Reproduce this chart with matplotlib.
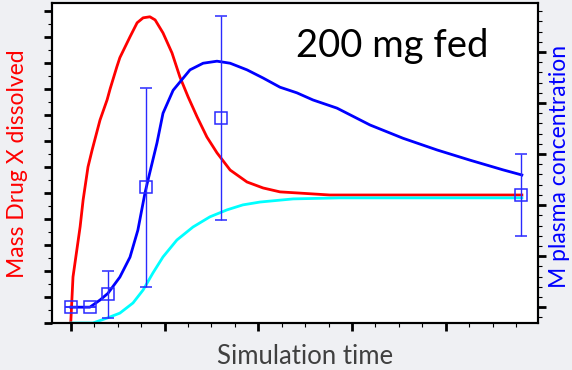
import numpy as np
import matplotlib
matplotlib.use('Agg')
import matplotlib.pyplot as plt
from matplotlib.ticker import MultipleLocator, NullFormatter

plt.rcParams['font.family'] = ['Lato', 'DejaVu Sans']

# simulated amount dissolved (left axis)
red_t = [0, 0.06, 0.25, 0.33, 0.46, 0.57, 0.78, 0.97, 1.05, 1.23, 1.31, 1.58, 1.77,
         1.93, 2.11, 2.25, 2.46, 2.70, 2.91, 3.13, 3.37, 3.63, 3.90, 4.25, 4.70,
         5.13, 5.58, 6.03, 6.91, 12.03]
red_v = [0, 1.77, 3.7, 4.73, 6.0, 6.65, 7.8, 8.58, 9.0, 9.85, 10.2, 11.0, 11.54,
         11.73, 11.77, 11.65, 11.15, 10.38, 9.46, 8.69, 7.92, 7.15, 6.54, 5.88, 5.42,
         5.19, 5.04, 5.0, 4.92, 4.92]

# second simulated amount (left axis)
cyan_t = [0, 0.59, 0.97, 1.31, 1.66, 1.93, 2.19, 2.46, 2.83, 3.26, 3.71, 4.17, 4.59,
          5.05, 5.93, 7.18, 12.03]
cyan_v = [0, 0, 0.19, 0.38, 0.77, 1.27, 1.92, 2.54, 3.19, 3.69, 4.08, 4.35, 4.54,
          4.65, 4.77, 4.81, 4.81]

# simulated plasma concentration (right axis)
blue_t = [0, 0.51, 0.78, 0.99, 1.31, 1.58, 1.79, 1.98, 2.06, 2.30, 2.46, 2.73, 2.91,
          3.18, 3.53, 3.90, 4.25, 4.70, 5.13, 5.58, 6.03, 6.46, 7.10, 7.98, 8.86,
          9.77, 10.65, 11.53, 12.03]
blue_v = [0, 0, 0.14, 0.27, 0.59, 0.98, 1.51, 2.24, 2.49, 3.22, 3.80, 4.25, 4.41,
          4.65, 4.78, 4.82, 4.78, 4.65, 4.49, 4.31, 4.20, 4.06, 3.90, 3.57, 3.31,
          3.08, 2.88, 2.69, 2.59]

# observed plasma concentration
obs_t = [0, 0.5, 1, 2, 4, 12]
obs_v = [0, 0, 0.25, 2.35, 3.7, 2.2]
obs_err = [0, 0, 0.46, 1.95, 2.0, 0.8]

W, H = 572, 370
fig = plt.figure(figsize=(W / 100, H / 100), dpi=100)
fig.patch.set_facecolor('#eff0f3')
ax = fig.add_axes([52 / W, 1 - 323 / H, 486 / W, 320 / H])
ax2 = ax.twinx()

ax.plot(red_t, red_v, color='#ff0000', lw=2)
ax.plot(cyan_t, cyan_v, color='#00ffff', lw=2)
ax2.plot(blue_t, blue_v, color='#0000ff', lw=2)
ax2.errorbar(obs_t, obs_v, yerr=obs_err, fmt='s', mfc='none', mec='#2a2aff',
             ms=8, mew=1.1, ecolor='#2a2aff', elinewidth=1, capsize=4, capthick=1)

for a in (ax, ax2):
    a.set_xlim(-0.5, 12.46)
    a.xaxis.set_major_locator(MultipleLocator(2.5))
    a.xaxis.set_minor_locator(MultipleLocator(0.625))
    a.xaxis.set_major_formatter(NullFormatter())
    a.yaxis.set_major_formatter(NullFormatter())
    for s in a.spines.values():
        s.set_linewidth(1.5)

ax.set_ylim(0, 12.3)
ax.yaxis.set_major_locator(MultipleLocator(1))
ax.yaxis.set_minor_locator(MultipleLocator(0.5))
ax2.set_ylim(-0.31, 5.96)
ax2.yaxis.set_major_locator(MultipleLocator(1))
ax2.yaxis.set_minor_locator(MultipleLocator(0.2))

for a in (ax, ax2):
    a.tick_params(which='major', length=6, width=2, direction='out')
    a.tick_params(which='minor', length=3, width=0.8, direction='out')

# axis titles placed by hand to match the slide
fig.text(17.5 / W, 1 - 164 / H, 'Mass Drug X dissolved', color='#ff0000',
         fontsize=16.5, rotation=90, ha='center', va='center')
fig.text(559 / W, 1 - 166 / H, 'M plasma concentration', color='#0000ff',
         fontsize=16.5, rotation=90, ha='center', va='center')
fig.text(305 / W, 1 - 356 / H, 'Simulation time', color='#404040',
         fontsize=18.5, ha='center', va='center')
ax.text(0.70, (323 - 57) / 320, '200 mg fed', transform=ax.transAxes,
        fontsize=27.5, ha='center', va='baseline', color='black')

fig.savefig('out.png', dpi=100, facecolor=fig.get_facecolor())
